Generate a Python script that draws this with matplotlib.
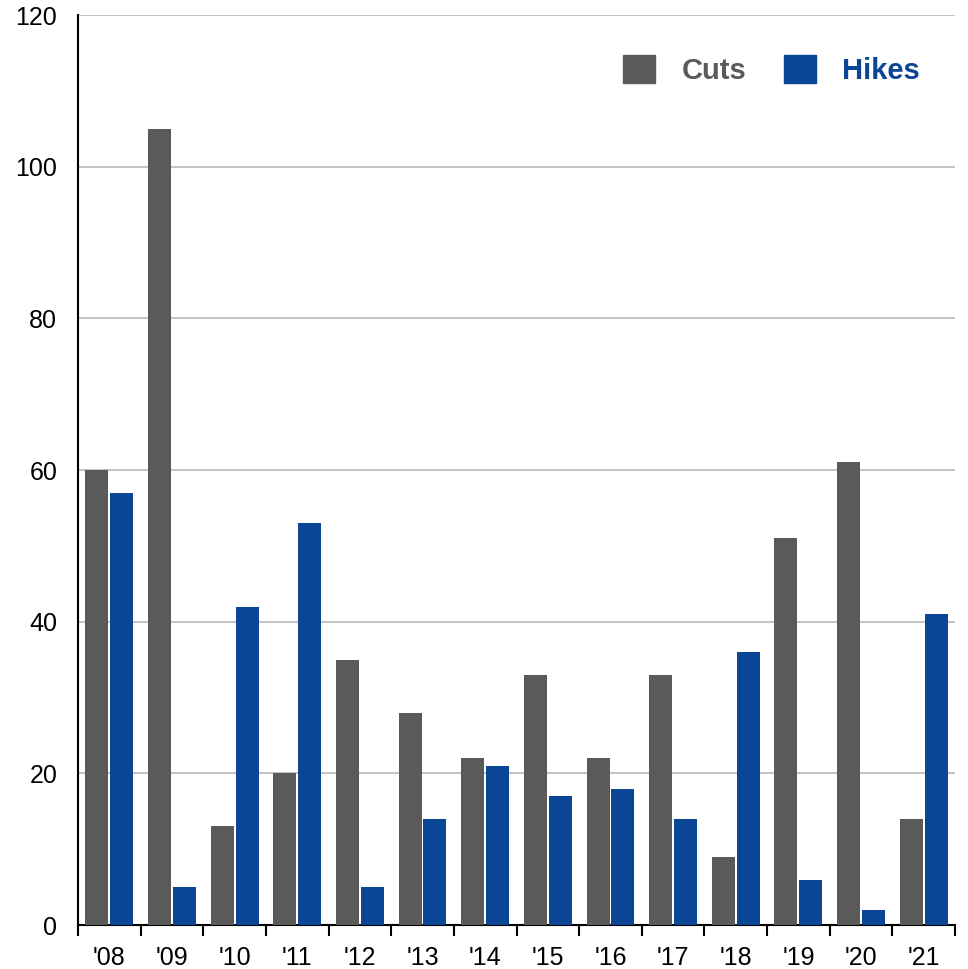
import numpy as np
import matplotlib.pyplot as plt
from matplotlib.patches import Patch

plt.rcParams['font.family'] = ['Liberation Sans', 'DejaVu Sans']

years = ["'08", "'09", "'10", "'11", "'12", "'13", "'14",
         "'15", "'16", "'17", "'18", "'19", "'20", "'21"]
cuts = [60, 105, 13, 20, 35, 28, 22, 33, 22, 33, 9, 51, 61, 14]
hikes = [57, 5, 42, 53, 5, 14, 21, 17, 18, 14, 36, 6, 2, 41]

gray = '#5a5a5a'
blue = '#0a4596'

fig = plt.figure(figsize=(9.68, 9.69), dpi=100)
ax = fig.add_axes([0.0806, 0.0454, 0.906, 0.9391])

x = np.arange(len(years))
w = 0.367
gap = 0.015
ax.bar(x - gap - w / 2, cuts, w, color=gray, zorder=3)
ax.bar(x + gap + w / 2, hikes, w, color=blue, zorder=3)

ax.set_xlim(-0.5, len(years) - 0.5)
ax.set_ylim(0, 120)
ax.set_yticks(range(0, 121, 20))
ax.yaxis.grid(True, color='#c4c4c4', linewidth=1.5, zorder=0)
ax.tick_params(axis='y', length=0, pad=15, labelsize=18)

# ticks sit between the year groups, labels centred under each group
ax.set_xticks(np.arange(len(years) + 1) - 0.5)
ax.set_xticklabels([])
ax.set_xticks(x, minor=True)
ax.set_xticklabels(years, minor=True, fontsize=18)
ax.tick_params(axis='x', which='major', length=8, width=1.5, direction='out')
ax.tick_params(axis='x', which='minor', length=0, pad=15)

for s in ['top', 'right']:
    ax.spines[s].set_visible(False)
ax.spines['left'].set_linewidth(1.5)
ax.spines['bottom'].set_linewidth(1.5)

handles = [Patch(color=gray, label='Cuts'), Patch(color=blue, label='Hikes')]
leg = ax.legend(handles=handles, loc='upper right', bbox_to_anchor=(0.99, 0.985),
                ncol=2, frameon=False, prop={'size': 21, 'weight': 'bold'},
                handlelength=1.1, handleheight=1.1, columnspacing=1.3,
                handletextpad=0.9)
for t, c in zip(leg.get_texts(), [gray, blue]):
    t.set_color(c)

fig.savefig('out.png', dpi=100)
